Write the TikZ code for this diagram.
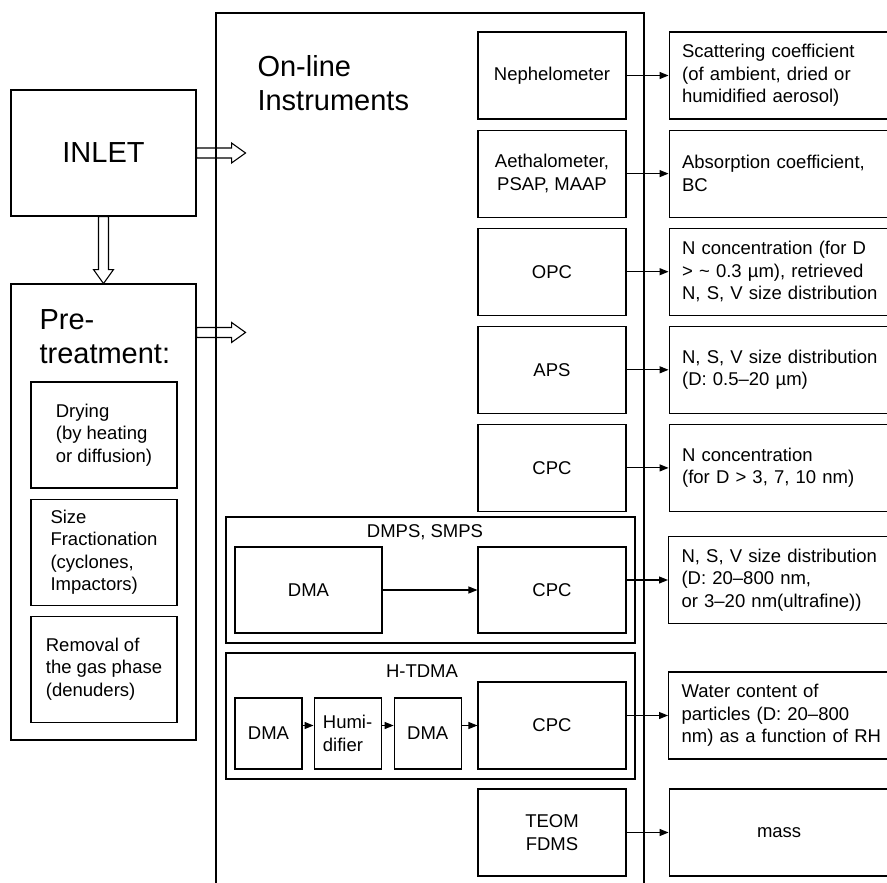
\documentclass[tikz,border=0pt]{standalone}
\usepackage{fontspec}
\setmainfont{Liberation Sans}
\usetikzlibrary{arrows.meta,positioning}

\tikzset{
  box/.style={draw, rectangle, inner sep=0pt, align=center, minimum width=148pt, minimum height=87pt},
  small/.style={draw, rectangle, inner sep=0pt, align=left, minimum width=67pt, minimum height=71pt},
  subbox/.style={draw, rectangle, inner sep=0pt, align=left, minimum width=146pt, minimum height=106pt},
  outbox/.style={draw, rectangle, anchor=west, inner xsep=13pt, inner ysep=0pt, text width=205pt, align=left, minimum height=87pt},
  frame/.style={draw, rectangle, minimum width=409pt, minimum height=126pt},
  big/.style={font=\fontsize{29}{34}\selectfont, inner sep=0pt, align=left},
  flow/.style={-{Triangle[length=9pt,width=7pt]}},
  pics/hollow/.style={code={
    \draw (0,-5) -- (#1-14,-5) -- (#1-14,-10) -- (#1,0) -- (#1-14,10) -- (#1-14,5) -- (0,5) -- cycle;}}
}

\begin{document}
\begin{tikzpicture}[x=1pt, y=-1pt, line width=1.1pt, font=\fontsize{18.5}{22.5}\selectfont]
\useasboundingbox (0,0) rectangle (887,883);
\clip (0,0) rectangle (887,883);

    % inlet and pre-treatment
 \node[draw, minimum width=185pt, minimum height=126pt, font=\fontsize{29}{34}\selectfont] (inlet) at (103.5,153) {INLET};
 \node[draw, minimum width=185pt, minimum height=456pt] (pre) at (103.5,512) {};
 \node[big, anchor=west] (pretitle) at (39,336.5) {Pre-\\treatment:};
 \node[subbox] (dry) at (104,435) {Drying\\(by heating\\or diffusion)};
 \node[subbox, below=10pt of dry] (size) {Size\\Fractionation\\(cyclones,\\Impactors)};
 \node[subbox, below=10pt of size] (gas) {Removal of\\the gas phase\\(denuders)};
 \pic at (inlet.east) {hollow=49};
 \pic[rotate=-90] at (inlet.south) {hollow=67};
 \pic at ([yshift=-49pt]pre.north east) {hollow=49};

    % on-line instruments
 \draw (216,890) -- (216,13) -- (644,13) -- (644,890);
 \node[big, anchor=west] (online) at (257,83.5) {On-line\\Instruments};
 \node[box] (neph) at (552,75.5) {Nephelometer};
 \node[box, below=10pt of neph] (aeth) {Aethalometer,\\PSAP, MAAP};
 \node[box, below=10pt of aeth] (opc) {OPC};
 \node[box, below=10pt of opc] (aps) {APS};
 \node[box, below=10pt of aps] (cpc) {CPC};

 \node[frame] (dmps) at (430.5,580) {};
 \node (dmpstitle) at (425,532) {DMPS, SMPS};
 \node[box, minimum width=147pt, minimum height=86pt] (dma) at (308.5,590) {DMA};
 \node[box, minimum height=86pt] (cpcs) at (552,590) {CPC};
 \draw[flow] (dma) -- (cpcs);

 \node[frame] (htdma) at (430.5,716) {};
 \node (htdmatitle) at (422,671) {H-TDMA};
 \node[small] (dmaa) at (268.5,733.5) {DMA};
 \node[small, right=11pt of dmaa] (hum) {Humi-\\difier};
 \node[small, right=12pt of hum] (dmab) {DMA};
 \node[box] (cpch) at (552,725.5) {CPC};
 \draw[flow] (dmaa.east |- cpch) -- (hum.west |- cpch);
 \draw[flow] (hum.east |- cpch) -- (dmab.west |- cpch);
 \draw[flow] (dmab.east |- cpch) -- (cpch);

 \node[box] (teom) at (552,832.5) {TEOM\\FDMS};

    % measured quantities
 \node[outbox, right=42pt of neph] (scat) {Scattering coefficient\\(of ambient, dried or\\humidified aerosol)};
 \node[outbox, right=42pt of aeth] (absn) {Absorption coefficient,\\BC};
 \node[outbox, right=42pt of opc] (opcout) {N concentration (for D\\> \textasciitilde{} 0.3 µm), retrieved\\N, S, V size distribution};
 \node[outbox, right=42pt of aps] (apsout) {N, S, V size distribution\\(D: 0.5--20 µm)};
 \node[outbox, right=42pt of cpc] (cpcout) {N concentration\\(for D > 3, 7, 10 nm)};
 \node[outbox] (smpsout) at (668,580) {N, S, V size distribution\\(D: 20--800 nm,\\or 3--20 nm(ultrafine))};
 \node[outbox] (htout) at (668,715.5) {Water content of\\particles (D: 20--800\\nm) as a function of RH};
 \node[outbox, text width=194pt, align=center, right=42pt of teom] (mass) {mass};

 \foreach \a/\b in {neph/scat, aeth/absn, opc/opcout, aps/apsout, cpc/cpcout, teom/mass}
    \draw[flow] (\a) -- (\b);
 \draw[flow] (cpcs.east |- smpsout) -- (smpsout);
 \draw[flow] (cpch.east |- htout) -- (htout);
\end{tikzpicture}
\end{document}
